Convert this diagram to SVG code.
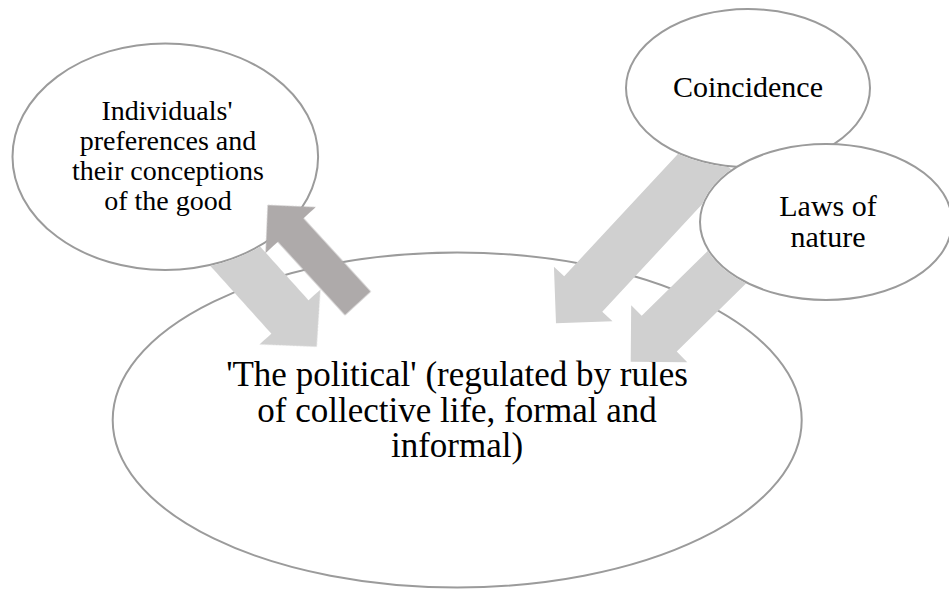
<svg xmlns="http://www.w3.org/2000/svg" width="949" height="589" viewBox="0 0 949 589">
  <style>
    .node { fill: #ffffff; stroke: #9b9b9b; stroke-width: 2; }
    .label { font-family: "Liberation Serif", "Times New Roman", serif; fill: #000000; text-anchor: middle; }
    .small { font-size: 30px; }
    .compact { font-size: 28px; }
    .large { font-size: 35px; }
    .light { fill: #d0d0d0; }
    .dark { fill: #aeaaaa; }
  </style>
  <defs>
    <!-- hides arrow tails beneath the three small ellipses -->
    <mask id="outside-small" maskUnits="userSpaceOnUse" x="0" y="0" width="949" height="589">
      <rect x="0" y="0" width="949" height="589" fill="#ffffff"/>
      <ellipse cx="165.3" cy="156.7" rx="152.8" ry="113.3" fill="#000000" stroke="#000000" stroke-width="2"/>
      <ellipse cx="748" cy="88" rx="122" ry="79" fill="#000000" stroke="#000000" stroke-width="2"/>
      <ellipse cx="826" cy="222" rx="126" ry="78" fill="#000000" stroke="#000000" stroke-width="2"/>
    </mask>
  </defs>

  <!-- central node -->
  <g id="political">
    <ellipse class="node" cx="457.2" cy="420" rx="344.5" ry="167.5"/>
    <text class="label large" x="457" y="386">'The political' (regulated by rules</text>
    <text class="label large" x="457" y="421.5">of collective life, formal and</text>
    <text class="label large" x="457" y="457">informal)</text>
  </g>

  <g id="individuals">
    <ellipse class="node" cx="165.3" cy="156.7" rx="152.8" ry="113.3"/>
    <text class="label compact" x="167" y="120">Individuals'</text>
    <text class="label compact" x="168" y="150">preferences and</text>
    <text class="label compact" x="168" y="180">their conceptions</text>
    <text class="label compact" x="168" y="210">of the good</text>
  </g>

  <g id="coincidence">
    <ellipse class="node" cx="748" cy="88" rx="122" ry="79"/>
    <text class="label small" x="748" y="97">Coincidence</text>
  </g>

  <g id="laws">
    <ellipse class="node" cx="826" cy="222" rx="126" ry="78"/>
    <text class="label small" x="828" y="216">Laws of</text>
    <text class="label small" x="828" y="246.5">nature</text>
  </g>

  <!-- block arrows: local tip at origin, pointing along +x -->
  <g id="connectors">
    <g mask="url(#outside-small)">
      <!-- individuals -> political -->
      <polygon class="light" transform="translate(316.7 346.7) rotate(48)"
               points="-140,-25 -40,-25 -40,-41 0,0 -40,41 -40,25 -140,25"/>
      <!-- coincidence -> political -->
      <polygon class="light" transform="translate(556 323.3) rotate(132.9)"
               points="-232,-26 -40,-26 -40,-40 0,0 -40,40 -40,26 -232,26"/>
      <!-- laws of nature -> political -->
      <polygon class="light" transform="translate(630.7 361.7) rotate(135.5)"
               points="-170,-25 -40,-25 -40,-40 0,0 -40,40 -40,25 -170,25"/>
    </g>
    <!-- political -> individuals -->
    <polygon class="dark" transform="translate(267.7 205) rotate(227.5)"
             points="-133.5,-17.4 -34,-17.4 -34,-34 0,0 -34,34 -34,17.4 -133.5,17.4"/>
  </g>
</svg>
